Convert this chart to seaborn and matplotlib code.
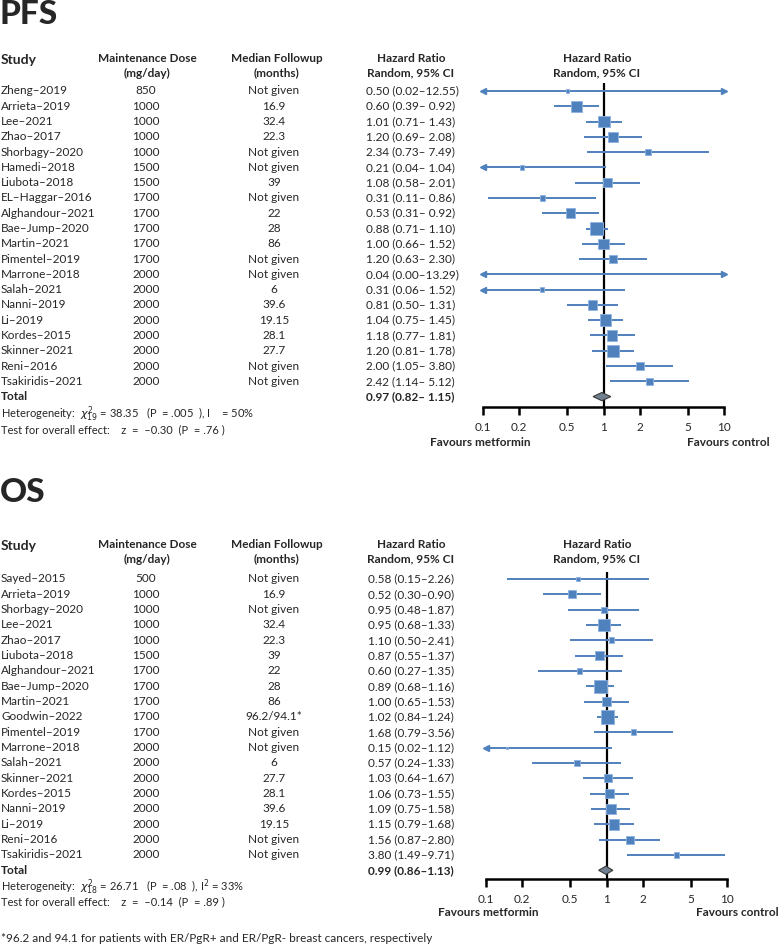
import numpy as np
import pandas as pd
import matplotlib.pyplot as plt
import matplotlib.transforms as mtransforms
import seaborn as sns

# PFS data
pfs_study = ["Zheng–2019", "Arrieta–2019", "Lee–2021", "Zhao–2017", "Shorbagy–2020", "Hamedi–2018",
             "Liubota–2018", "EL–Haggar–2016", "Alghandour–2021", "Bae–Jump–2020", "Martin–2021",
             "Pimentel–2019", "Marrone–2018", "Salah–2021", "Nanni–2019", "Li–2019", "Kordes–2015",
             "Skinner–2021", "Reni–2016", "Tsakiridis–2021"]
pfs_dose = ["850", "1000", "1000", "1000", "1000", "1500", "1500", "1700", "1700", "1700", "1700",
            "1700", "2000", "2000", "2000", "2000", "2000", "2000", "2000", "2000"]
pfs_followup = ["Not given", "16.9", "32.4", "22.3", "Not given", "Not given", "39", "Not given", "22",
                "28", "86", "Not given", "Not given", "6", "39.6", "19.15", "28.1", "27.7",
                "Not given", "Not given"]
pfs_hr = [0.50, 0.60, 1.01, 1.20, 2.34, 0.21, 1.08, 0.31, 0.53, 0.88, 1.00, 1.20, 0.04, 0.31, 0.81,
          1.04, 1.18, 1.20, 2.00, 2.42]
pfs_lo = [0.02, 0.39, 0.71, 0.69, 0.73, 0.04, 0.58, 0.11, 0.31, 0.71, 0.66, 0.63, 0.00, 0.06, 0.50,
          0.75, 0.77, 0.81, 1.05, 1.14]
pfs_hi = [12.55, 0.92, 1.43, 2.08, 7.49, 1.04, 2.01, 0.86, 0.92, 1.10, 1.52, 2.30, 13.29, 1.52, 1.31,
          1.45, 1.81, 1.78, 3.80, 5.12]
pfs_weight = [0.7, 7.2, 8.7, 5.9, 1.8, 1.2, 4.6, 1.8, 5.9, 10.4, 7.2, 4.6, 0.1, 1.2, 5.9, 8.7, 7.2,
              8.7, 4.6, 3.5]
pfs_total = [0.97, 0.82, 1.15]

# OS data
os_study = ["Sayed–2015", "Arrieta–2019", "Shorbagy–2020", "Lee–2021", "Zhao–2017", "Liubota–2018",
            "Alghandour–2021", "Bae–Jump–2020", "Martin–2021", "Goodwin–2022", "Pimentel–2019",
            "Marrone–2018", "Salah–2021", "Skinner–2021", "Kordes–2015", "Nanni–2019", "Li–2019",
            "Reni–2016", "Tsakiridis–2021"]
os_dose = ["500", "1000", "1000", "1000", "1000", "1500", "1700", "1700", "1700", "1700", "1700",
           "2000", "2000", "2000", "2000", "2000", "2000", "2000", "2000"]
os_followup = ["Not given", "16.9", "Not given", "32.4", "22.3", "39", "22", "28", "86", "96.2/94.1*",
               "Not given", "Not given", "6", "27.7", "28.1", "39.6", "19.15", "Not given", "Not given"]
os_hr = [0.58, 0.52, 0.95, 0.95, 1.10, 0.87, 0.60, 0.89, 1.00, 1.02, 1.68, 0.15, 0.57, 1.03, 1.06,
         1.09, 1.15, 1.56, 3.80]
os_lo = [0.15, 0.30, 0.48, 0.68, 0.50, 0.55, 0.27, 0.68, 0.65, 0.84, 0.79, 0.02, 0.24, 0.64, 0.73,
         0.75, 0.79, 0.87, 1.49]
os_hi = [2.26, 0.90, 1.87, 1.33, 2.41, 1.37, 1.35, 1.16, 1.53, 1.24, 3.56, 1.12, 1.33, 1.67, 1.55,
         1.58, 1.68, 2.80, 9.71]
os_weight = [0.7, 4.3, 2.9, 9.9, 2.6, 6.2, 2.0, 11.2, 6.6, 13.8, 2.3, 0.3, 2.6, 4.8, 6.6, 7.7, 8.2,
             4.8, 2.0]
os_total = [0.99, 0.86, 1.13]

tick_vals = [0.1, 0.2, 0.5, 1, 2, 5, 10]
tick_labels = ["0.1", "0.2", "0.5", "1", "2", "5", "10"]

sns.set_theme(style="white")
plt.rcParams["font.family"] = ["Lato", "DejaVu Sans"]

W, H = 778, 944
BLUE = "#4F81BD"
fs = 8.5

fig = plt.figure(figsize=(W / 100, H / 100), dpi=100)


def panel(title, title_y, study, dose, follow, hr, lo, hi, weight, total, het, test,
          row0, step, top, bottom, xl, xr, hr_x, k, fav_y, fav_m_x, fav_c_x, hdr_y):
    rows = np.arange(len(study))
    r = lambda px: (px - row0) / step
    ax = fig.add_axes([xl / W, 1 - bottom / H, (xr - xl) / W, (bottom - top) / H])
    ax.set_xscale("log")

    # confidence intervals, with arrows when cut at the axis ends
    for i in rows:
        a, b = max(lo[i], 0.1), min(hi[i], 10)
        ax.plot([a, b], [i, i], color=BLUE, lw=1.4, solid_capstyle="butt", zorder=2)
        if lo[i] < 0.1:
            ax.plot(0.1, i, marker="<", color=BLUE, ms=4.5, clip_on=False, zorder=2)
        if hi[i] > 10:
            ax.plot(10, i, marker=">", color=BLUE, ms=4.5, clip_on=False, zorder=2)

    df = pd.DataFrame({"hr": hr, "row": rows, "weight": weight})
    w = np.array(weight)
    sns.scatterplot(data=df, x="hr", y="row", size="weight", sizes=(w.min() * k, w.max() * k),
                    size_norm=(w.min(), w.max()), marker="s", color=BLUE, edgecolor="#8DB3E2",
                    linewidth=0.6, legend=False, ax=ax, zorder=3)

    # pooled diamond
    n = len(study)
    ax.fill([total[1], total[0], total[2], total[0]], [n, n - 0.27, n, n + 0.27],
            facecolor="#708090", edgecolor="#3A3A3A", lw=0.8, zorder=4)
    ax.axvline(1, color="black", lw=1.6, zorder=1)

    ax.set_xlim(0.1, 10)
    ax.set_ylim(r(bottom), r(top))
    ax.set_xticks(tick_vals)
    ax.set_xticklabels(tick_labels)
    ax.minorticks_off()
    ax.set_yticks([])
    ax.set_xlabel("")
    ax.set_ylabel("")
    sns.despine(ax=ax, left=True)
    ax.spines["bottom"].set_linewidth(1.8)
    ax.spines["bottom"].set_color("black")
    ax.tick_params(axis="x", direction="out", length=6, width=1.8, pad=5, labelsize=fs,
                   bottom=True, color="black")
    ax.patch.set_alpha(0)

    tr = mtransforms.blended_transform_factory(fig.transFigure, ax.transData)

    # column headers
    h1, h2 = r(hdr_y[0]), r(hdr_y[1])
    ax.text(1 / W, (h1 + h2) / 2 - 0.35, "Study", transform=tr, fontsize=10, fontweight="bold",
            va="center", ha="left")
    for x, t1, t2 in [(147, "Maintenance Dose", "(mg/day)"), (277, "Median Followup", "(months)"),
                      (411, "Hazard Ratio", "Random, 95% CI"), (597, "Hazard Ratio", "Random, 95% CI")]:
        ax.text(x / W, h1, t1, transform=tr, fontsize=fs, fontweight="bold", ha="center", va="center")
        ax.text(x / W, h2, t2, transform=tr, fontsize=fs, fontweight="bold", ha="center", va="center")

    for i in rows:
        ax.text(1 / W, i, study[i], transform=tr, fontsize=fs, va="center", ha="left")
        ax.text(146 / W, i, dose[i], transform=tr, fontsize=fs, va="center", ha="center")
        ax.text(274 / W, i, follow[i], transform=tr, fontsize=fs, va="center", ha="center")
        if title == "PFS":
            s = f"{hr[i]:.2f} ({lo[i]:.2f}–{hi[i]:5.2f})"
        else:
            s = f"{hr[i]:.2f} ({lo[i]:.2f}–{hi[i]:.2f})"
        ax.text(hr_x / W, i, s, transform=tr, fontsize=fs, va="center", ha="left")

    ax.text(1 / W, n, "Total", transform=tr, fontsize=fs, fontweight="bold", va="center")
    if title == "PFS":
        tot = f"{total[0]:.2f} ({total[1]:.2f}–{total[2]:5.2f})"
    else:
        tot = f"{total[0]:.2f} ({total[1]:.2f}–{total[2]:.2f})"
    ax.text(hr_x / W, n, tot, transform=tr, fontsize=fs, fontweight="bold", va="center")
    ax.text(1 / W, r(het[0]), het[1], transform=tr, fontsize=8, va="center")
    ax.text(1 / W, r(test[0]), test[1], transform=tr, fontsize=8, va="center")

    ax.text(fav_m_x / W, r(fav_y), "Favours metformin", transform=tr, fontsize=fs,
            fontweight="bold", ha="center", va="center")
    ax.text(fav_c_x / W, r(fav_y), "Favours control", transform=tr, fontsize=fs,
            fontweight="bold", ha="center", va="center")

    fig.text(0.0, 1 - title_y / H, title, fontsize=24, fontweight="black", va="center", ha="left")
    return ax


panel("PFS", 15, pfs_study, pfs_dose, pfs_followup, pfs_hr, pfs_lo, pfs_hi, pfs_weight, pfs_total,
      (414, r"Heterogeneity:  $\chi^2_{19}$ = 38.35   (P  = .005  ), I    = 50%"),
      (430, "Test for overall effect:    z  =  –0.30  (P  = .76 )"),
      row0=91, step=15.28, top=83, bottom=407, xl=483, xr=724, hr_x=366, k=8.0,
      fav_y=442, fav_m_x=480, fav_c_x=728, hdr_y=(58, 73))

panel("OS", 493, os_study, os_dose, os_followup, os_hr, os_lo, os_hi, os_weight, os_total,
      (887, r"Heterogeneity:  $\chi^2_{18}$ = 26.71   (P  = .08  ), I$^2$ = 33%"),
      (902, "Test for overall effect:    z  =  –0.14  (P  = .89 )"),
      row0=579, step=15.33, top=572, bottom=879, xl=486, xr=727, hr_x=368, k=7.1,
      fav_y=912, fav_m_x=488, fav_c_x=737, hdr_y=(544, 559))

fig.text(1 / W, 1 - 938 / H, "*96.2 and 94.1 for patients with ER/PgR+ and ER/PgR- breast cancers, respectively",
         fontsize=8.5, va="center", ha="left")

fig.savefig("out.png", dpi=100)
